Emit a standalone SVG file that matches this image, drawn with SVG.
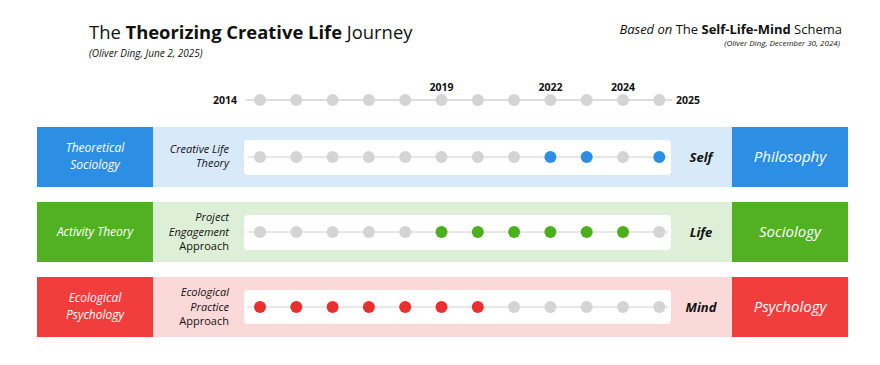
<svg xmlns="http://www.w3.org/2000/svg" width="880" height="365" viewBox="0 0 880 365">
<style>
  text { font-family: "Open Sans", "Noto Sans", "Liberation Sans", sans-serif; }
  .title { font-size: 18.4px; fill: #111; }
  .b { font-weight: 700; }
  .i { font-style: italic; }
  .sub { font-size: 10px; font-style: italic; fill: #111; }
  .yr { font-size: 10.5px; font-weight: 700; fill: #111; }
  .lbl { font-size: 12px; font-style: italic; fill: #fff; text-anchor: middle; }
  .big { font-size: 15px; font-style: italic; fill: #fff; text-anchor: middle; }
  .mid { font-size: 11px; font-style: italic; fill: #111; text-anchor: end; }
  .up { font-style: normal; }
  .key { font-size: 13px; font-style: italic; font-weight: 700; fill: #111; text-anchor: middle; }
  .g { fill: #d4d4d4; }
  .bl { fill: #2b8fe6; }
  .gr { fill: #4caf1e; }
  .rd { fill: #e8302e; }
  .track { stroke: #d0d0d0; stroke-width: 1; }
  .ttrack { stroke: #dedede; stroke-width: 2; }
  .panel { fill: #fff; }
</style>
<rect width="880" height="365" fill="#fff"/>

<g id="header">
  <text x="89" y="39" class="title">The <tspan class="b">Theorizing Creative Life</tspan> Journey</text>
  <text x="89" y="57" class="sub">(Oliver Ding, June 2, 2025)</text>
  <text x="842" y="34" font-size="13" fill="#111" text-anchor="end"><tspan class="i">Based on</tspan> The <tspan class="b">Self-Life-Mind</tspan> Schema</text>
  <text x="840" y="46" font-size="8px" font-style="italic" fill="#111" text-anchor="end">(Oliver Ding, December 30, 2024)</text>
</g>

<g id="timeline">
  <line x1="246" y1="100" x2="672" y2="100" class="ttrack"/>
  <g class="g">
    <circle cx="260" cy="100" r="6"/><circle cx="296.3" cy="100" r="6"/><circle cx="332.6" cy="100" r="6"/><circle cx="368.9" cy="100" r="6"/>
    <circle cx="405.2" cy="100" r="6"/><circle cx="441.5" cy="100" r="6"/><circle cx="477.8" cy="100" r="6"/><circle cx="514.1" cy="100" r="6"/>
    <circle cx="550.4" cy="100" r="6"/><circle cx="586.7" cy="100" r="6"/><circle cx="623" cy="100" r="6"/><circle cx="659.3" cy="100" r="6"/>
  </g>
  <text x="237" y="104" class="yr" text-anchor="end">2014</text>
  <text x="441.5" y="91" class="yr" text-anchor="middle">2019</text>
  <text x="550.4" y="91" class="yr" text-anchor="middle">2022</text>
  <text x="623" y="91" class="yr" text-anchor="middle">2024</text>
  <text x="676" y="104" class="yr">2025</text>
</g>

<g id="row-self">
  <rect x="153" y="127" width="579" height="60" fill="#d8e9f9"/>
  <rect x="37" y="127" width="116" height="60" fill="#2d8fe3"/>
  <rect x="732" y="127" width="116" height="60" fill="#2d8fe3"/>
  <text x="95" y="152" class="lbl">Theoretical</text>
  <text x="95" y="168.5" class="lbl">Sociology</text>
  <text x="229" y="153" class="mid">Creative Life</text>
  <text x="229" y="167" class="mid">Theory</text>
  <rect x="244" y="140" width="427" height="35" rx="4" class="panel"/>
  <line x1="247" y1="157" x2="668" y2="157" class="track"/>
  <g class="g">
    <circle cx="260" cy="157" r="6"/><circle cx="296.3" cy="157" r="6"/><circle cx="332.6" cy="157" r="6"/><circle cx="368.9" cy="157" r="6"/>
    <circle cx="405.2" cy="157" r="6"/><circle cx="441.5" cy="157" r="6"/><circle cx="477.8" cy="157" r="6"/><circle cx="514.1" cy="157" r="6"/>
    <circle cx="623" cy="157" r="6"/>
  </g>
  <g class="bl">
    <circle cx="550.4" cy="157" r="6"/><circle cx="586.7" cy="157" r="6"/><circle cx="659.3" cy="157" r="6"/>
  </g>
  <text x="701" y="162" class="key">Self</text>
  <text x="790" y="162" class="big">Philosophy</text>
</g>

<g id="row-life">
  <rect x="153" y="202" width="579" height="60" fill="#ddefd6"/>
  <rect x="37" y="202" width="116" height="60" fill="#52b122"/>
  <rect x="732" y="202" width="116" height="60" fill="#52b122"/>
  <text x="95" y="236" class="lbl">Activity Theory</text>
  <text x="229" y="221" class="mid">Project</text>
  <text x="229" y="235.5" class="mid">Engagement</text>
  <text x="229" y="250" class="mid up">Approach</text>
  <rect x="244" y="215" width="427" height="35" rx="4" class="panel"/>
  <line x1="247" y1="232" x2="668" y2="232" class="track"/>
  <g class="g">
    <circle cx="260" cy="232" r="6"/><circle cx="296.3" cy="232" r="6"/><circle cx="332.6" cy="232" r="6"/><circle cx="368.9" cy="232" r="6"/>
    <circle cx="405.2" cy="232" r="6"/><circle cx="659.3" cy="232" r="6"/>
  </g>
  <g class="gr">
    <circle cx="441.5" cy="232" r="6"/><circle cx="477.8" cy="232" r="6"/><circle cx="514.1" cy="232" r="6"/>
    <circle cx="550.4" cy="232" r="6"/><circle cx="586.7" cy="232" r="6"/><circle cx="623" cy="232" r="6"/>
  </g>
  <text x="701" y="237" class="key">Life</text>
  <text x="790" y="237" class="big">Sociology</text>
</g>

<g id="row-mind">
  <rect x="153" y="277" width="579" height="60" fill="#fbd9d9"/>
  <rect x="37" y="277" width="116" height="60" fill="#f23d3d"/>
  <rect x="732" y="277" width="116" height="60" fill="#f23d3d"/>
  <text x="95" y="302" class="lbl">Ecological</text>
  <text x="95" y="318.5" class="lbl">Psychology</text>
  <text x="229" y="296" class="mid">Ecological</text>
  <text x="229" y="310.5" class="mid">Practice</text>
  <text x="229" y="325" class="mid up">Approach</text>
  <rect x="244" y="290" width="427" height="34" rx="4" class="panel"/>
  <line x1="247" y1="307" x2="668" y2="307" class="track"/>
  <g class="rd">
    <circle cx="260" cy="307" r="6"/><circle cx="296.3" cy="307" r="6"/><circle cx="332.6" cy="307" r="6"/><circle cx="368.9" cy="307" r="6"/>
    <circle cx="405.2" cy="307" r="6"/><circle cx="441.5" cy="307" r="6"/><circle cx="477.8" cy="307" r="6"/>
  </g>
  <g class="g">
    <circle cx="514.1" cy="307" r="6"/><circle cx="550.4" cy="307" r="6"/><circle cx="586.7" cy="307" r="6"/>
    <circle cx="623" cy="307" r="6"/><circle cx="659.3" cy="307" r="6"/>
  </g>
  <text x="701" y="312" class="key">Mind</text>
  <text x="790" y="312" class="big">Psychology</text>
</g>
</svg>
